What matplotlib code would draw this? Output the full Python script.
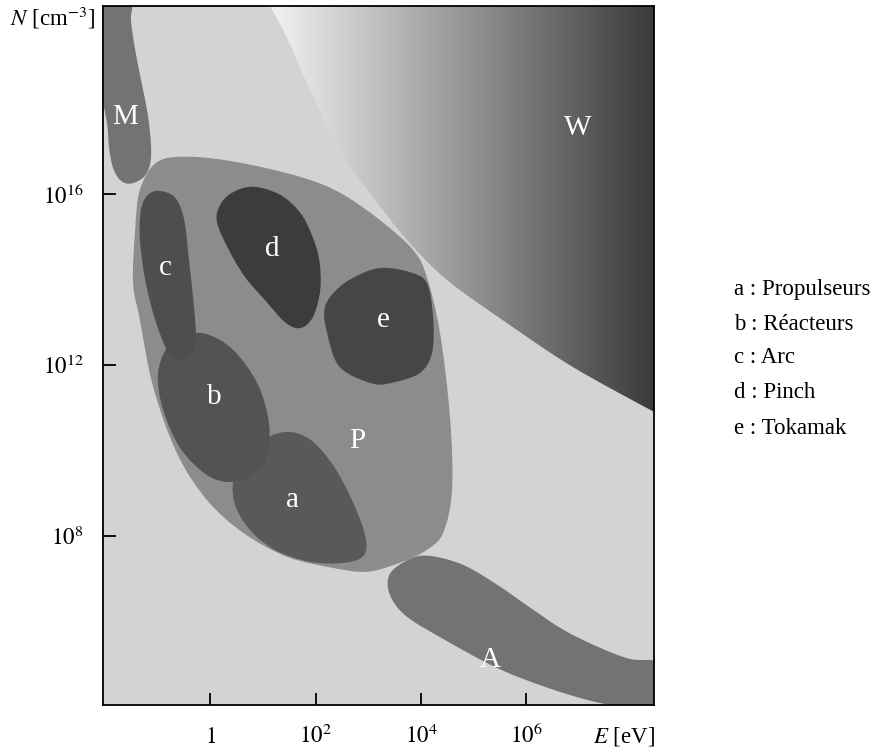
import numpy as np
import matplotlib
matplotlib.use("Agg")
import matplotlib.pyplot as plt
from matplotlib.path import Path
from matplotlib.patches import PathPatch
from matplotlib.colors import LinearSegmentedColormap

plt.rcParams['font.family'] = ['Liberation Serif', 'DejaVu Serif']
plt.rcParams['mathtext.fontset'] = 'stix'

# axes: x = log10(E / eV), y = log10(N / cm^-3)
xticks = [0, 2, 4, 6]
xticklabels = [r'$1$', r'$10^{2}$', r'$10^{4}$', r'$10^{6}$']
yticks = [8, 12, 16]
yticklabels = [r'$10^{8}$', r'$10^{12}$', r'$10^{16}$']

# region outlines (log10 E, log10 N)
W_edge = [(0.99, 20.67), (1.14, 20.41), (1.48, 19.61), (1.90, 18.44), (2.46, 17.04),
          (3.09, 15.94), (3.73, 14.94), (4.49, 14.00), (5.63, 12.99), (6.88, 11.96),
          (8.42, 10.91), (8.72, 10.72)]
M_reg = [(-1.50, 20.67), (-1.50, 20.08), (-1.42, 19.38), (-1.29, 18.56), (-1.18, 17.86),
         (-1.12, 17.16), (-1.14, 16.69), (-1.27, 16.39), (-1.52, 16.25), (-1.71, 16.34),
         (-1.84, 16.62), (-1.91, 17.04), (-1.95, 17.63), (-2.03, 18.21), (-2.09, 19.15),
         (-2.10, 20.67)]
P_reg = [(-1.00, 16.76), (-0.38, 16.88), (0.57, 16.74), (1.71, 16.41), (2.46, 16.04),
         (3.22, 15.40), (3.85, 14.70), (4.11, 14.07), (4.36, 12.76), (4.55, 10.79),
         (4.59, 9.09), (4.42, 8.08), (4.11, 7.68), (3.60, 7.38), (2.98, 7.17),
         (2.33, 7.26), (1.46, 7.52), (0.63, 8.08), (-0.06, 8.85), (-0.63, 9.95),
         (-1.08, 11.50), (-1.33, 13.06), (-1.46, 13.93), (-1.42, 15.17), (-1.33, 16.11)]
A_reg = [(3.79, 7.47), (4.17, 7.54), (4.80, 7.33), (5.44, 6.87), (6.07, 6.33),
         (6.69, 5.82), (7.34, 5.42), (7.96, 5.13), (8.53, 5.04), (8.76, 4.41),
         (8.53, 3.89), (7.39, 4.10), (6.39, 4.46), (5.44, 4.92), (4.49, 5.55),
         (3.73, 6.12), (3.41, 6.63), (3.41, 7.12)]
a_reg = [(1.42, 10.44), (1.90, 10.26), (2.33, 9.67), (2.69, 8.85), (2.94, 8.03),
         (2.92, 7.56), (2.56, 7.38), (1.90, 7.40), (1.23, 7.68), (0.72, 8.20),
         (0.45, 8.85), (0.49, 9.56), (0.85, 10.14)]
b_reg = [(-0.09, 12.74), (0.44, 12.36), (0.91, 11.54), (1.12, 10.61), (1.06, 9.83),
         (0.76, 9.41), (0.34, 9.27), (-0.09, 9.46), (-0.57, 10.07), (-0.89, 10.96),
         (-0.99, 11.78), (-0.82, 12.41), (-0.51, 12.67)]
c_reg = [(-0.95, 16.08), (-0.66, 15.92), (-0.49, 15.40), (-0.40, 14.47), (-0.30, 13.30),
         (-0.27, 12.60), (-0.36, 12.25), (-0.57, 12.13), (-0.80, 12.32), (-1.04, 13.06),
         (-1.23, 14.00), (-1.33, 14.94), (-1.31, 15.64), (-1.18, 15.99)]
d_reg = [(0.82, 16.18), (1.33, 15.99), (1.71, 15.57), (1.93, 15.05), (2.07, 14.47),
         (2.09, 13.77), (1.95, 13.13), (1.71, 12.87), (1.42, 13.01), (1.04, 13.53),
         (0.66, 14.07), (0.34, 14.74), (0.13, 15.36), (0.19, 15.75), (0.42, 16.04)]
e_reg = [(3.28, 14.28), (3.79, 14.18), (4.11, 13.93), (4.23, 13.13), (4.21, 12.29),
         (3.98, 11.82), (3.51, 11.61), (3.09, 11.57), (2.46, 11.96), (2.22, 12.76),
         (2.18, 13.37), (2.46, 13.84), (2.90, 14.16)]

labels = ['M', 'W', 'c', 'd', 'e', 'b', 'P', 'a', 'A']
label_x = [-1.61, 6.98, -0.85, 1.18, 3.28, 0.08, 2.79, 1.57, 5.31]
label_y = [17.81, 17.56, 14.28, 14.73, 13.06, 11.26, 10.23, 8.85, 5.11]

legend_lines = ['a : Propulseurs', 'b : Réacteurs', 'c : Arc', 'd : Pinch', 'e : Tokamak']


def smooth(pts, closed=True):
    # Catmull-Rom through the outline points, drawn as cubic Bezier segments
    p = np.asarray(pts, float)
    n = len(p)
    verts = [p[0]]
    codes = [Path.MOVETO]
    segs = n if closed else n - 1
    for i in range(segs):
        p0 = p[(i - 1) % n] if (closed or i > 0) else p[0]
        p1 = p[i]
        p2 = p[(i + 1) % n]
        p3 = p[(i + 2) % n] if (closed or i + 2 < n) else p[-1]
        verts += [p1 + (p2 - p0) / 6., p2 - (p3 - p1) / 6., p2]
        codes += [Path.CURVE4] * 3
    if closed:
        verts.append(p[0])
        codes.append(Path.CLOSEPOLY)
    return verts, codes


def blob(ax, pts, color, z):
    v, c = smooth(pts)
    ax.add_patch(PathPatch(Path(v, c), facecolor=color, edgecolor='none', zorder=z))


fig = plt.figure(figsize=(8.76, 7.49), dpi=100)
ax = fig.add_axes([0.1176, 0.0581, 0.629, 0.934])
ax.set_facecolor('#d3d3d3')

# W region with horizontal gradient
v, c = smooth(W_edge, closed=False)
v += [(8.72, 20.67), W_edge[0], W_edge[0]]
c += [Path.LINETO, Path.LINETO, Path.CLOSEPOLY]
wpatch = PathPatch(Path(v, c), facecolor='none', edgecolor='none', zorder=1)
ax.add_patch(wpatch)
cmap = LinearSegmentedColormap.from_list('w', ['#f6f6f6', '#3a3a3a'])
im = ax.imshow(np.linspace(0, 1, 256)[None, :], extent=(1.0, 8.42, 3.5, 21),
               cmap=cmap, aspect='auto', zorder=1, interpolation='bilinear')
im.set_clip_path(wpatch)

blob(ax, M_reg, '#737373', 2)
blob(ax, P_reg, '#8c8c8c', 2)
blob(ax, A_reg, '#737373', 2)
blob(ax, a_reg, '#595959', 3)
blob(ax, b_reg, '#535353', 4)
blob(ax, c_reg, '#4e4e4e', 5)
blob(ax, d_reg, '#3c3c3c', 3)
blob(ax, e_reg, '#464646', 3)

for t, x, y in zip(labels, label_x, label_y):
    ax.text(x, y, t, color='white', fontsize=21, ha='center', va='center', zorder=10)

ax.set_xlim(-2.03, 8.42)
ax.set_ylim(4.04, 20.41)
ax.set_xticks(xticks)
ax.set_xticklabels(xticklabels, va='baseline')
ax.set_yticks(yticks)
ax.set_yticklabels(yticklabels)
ax.tick_params(direction='in', length=9, width=1.3, labelsize=16.5)
ax.tick_params(axis='y', pad=14)
ax.tick_params(axis='x', pad=27)
for s in ax.spines.values():
    s.set_linewidth(1.3)
    s.set_zorder(20)

fig.text(95 / 876, 1 - 18 / 749, r'$N$ [cm$^{-3}$]', ha='right', va='center', fontsize=16.5)
fig.text(655 / 876, 1 - 743 / 749, r'$E$ [eV]', ha='right', va='baseline', fontsize=16.5)

legend_y = [289, 324, 358, 393, 428]
for t, yp in zip(legend_lines, legend_y):
    fig.text(734 / 876, 1 - yp / 749, t, ha='left', va='center', fontsize=16.5)

fig.savefig('out.png', dpi=100)
